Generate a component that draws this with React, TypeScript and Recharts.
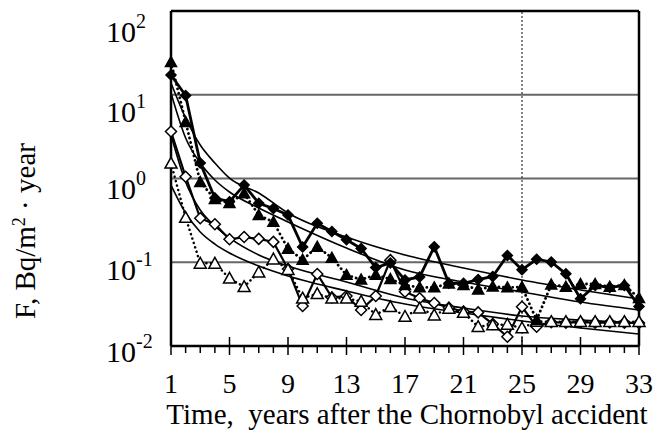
import React from "react";
import { LineChart, Line, XAxis, YAxis, ReferenceLine } from "recharts";

// years after the accident
const years = [1, 2, 3, 4, 5, 6, 7, 8, 9, 10, 11, 12, 13, 14, 15, 16, 17, 18, 19, 20, 21, 22, 23, 24, 25, 26, 27, 28, 29, 30, 31, 32, 33];

// measured series (Bq/m2 per year)
const filledDiamond = [17.2, 9.8, 1.53, 0.585, 0.528, 0.835, 0.506, 0.438, 0.366, 0.152, 0.292, 0.233, 0.186, 0.146, 0.0865, 0.098, 0.0614, 0.0667, 0.153, 0.0561, 0.0561, 0.0622, 0.0676, 0.1205, 0.0815, 0.1086, 0.1007, 0.0728, 0.0367, 0.0527, 0.05, 0.0527, 0.0297];
const filledTriangle = [24.6, 4.73, 0.908, 0.569, 0.509, 0.665, 0.366, 0.303, 0.145, 0.107, 0.153, 0.113, 0.0705, 0.062, 0.0705, 0.063, 0.0535, 0.05, 0.05, 0.0557, 0.0535, 0.0473, 0.0513, 0.05, 0.0506, 0.0204, 0.0542, 0.051, 0.055, 0.055, 0.051, 0.0535, 0.0372];
const openDiamond = [3.64, 1.05, 0.335, 0.284, 0.188, 0.2, 0.19, 0.175, 0.083, 0.03, 0.0724, 0.038, 0.0395, 0.0269, 0.0395, 0.106, 0.0445, 0.0372, 0.0326, 0.0286, 0.0258, 0.0252, 0.0183, 0.0129, 0.0294, 0.017, 0.0192, 0.019, 0.0192, 0.019, 0.0191, 0.019, 0.0188];
const openTriangle = [1.52, 0.342, 0.097, 0.097, 0.0643, 0.051, 0.076, 0.109, 0.0815, 0.0372, 0.042, 0.0372, 0.0372, 0.034, 0.0237, 0.0294, 0.0225, 0.0282, 0.0234, 0.0281, 0.0251, 0.017, 0.0178, 0.0181, 0.0164, 0.0196, 0.0195, 0.0195, 0.0195, 0.0195, 0.0195, 0.0195, 0.0195];

// trend curves
const fitYears = [1, 2, 3, 4, 5, 7, 9, 13, 17, 21, 25, 29, 33];
const fitA = [13.8, 5.28, 2.51, 1.53, 1.01, 0.671, 0.387, 0.2, 0.122, 0.0853, 0.0614, 0.0467, 0.0364];
const fitB = [10.5, 3.05, 1.53, 0.96, 0.69, 0.445, 0.303, 0.148, 0.0807, 0.058, 0.0442, 0.0335, 0.0269];
const fitC = [3.31, 0.908, 0.421, 0.271, 0.195, 0.122, 0.0901, 0.058, 0.0374, 0.0284, 0.0228, 0.0204, 0.0188];
const fitD = [0.835, 0.387, 0.23, 0.165, 0.129, 0.0901, 0.0686, 0.0454, 0.0317, 0.0248, 0.0199, 0.0164, 0.0139];

const xTicks = years;
const xLabels = [1, 5, 9, 13, 17, 21, 25, 29, 33];
const yTicks = [0.01, 0.1, 1, 10, 100];
const yExp: Record<number, string> = { 0.01: "-2", 0.1: "-1", 1: "0", 10: "1", 100: "2" };
const yShift: Record<number, number> = { 0.01: 16, 0.1: 18, 1: 20, 10: 27, 100: 31 };

const rows = years.map((t, i) => ({
  t,
  a: filledDiamond[i],
  b: filledTriangle[i],
  c: openDiamond[i],
  d: openTriangle[i],
}));

const fitRows = fitYears.map((t, i) => ({ t, fa: fitA[i], fb: fitB[i], fc: fitC[i], fd: fitD[i] }));

const FONT = "'Liberation Serif', 'Times New Roman', serif";

const diamond = (fill: string, r: number) => (p: any) => {
  const { cx, cy, index } = p;
  if (cx == null || cy == null) return <g key={index} />;
  return (
    <path
      key={index}
      d={`M${cx},${cy - r}L${cx + r},${cy}L${cx},${cy + r}L${cx - r},${cy}Z`}
      fill={fill}
      stroke="#000"
      strokeWidth={1.5}
    />
  );
};

const triangle = (fill: string, r: number) => (p: any) => {
  const { cx, cy, index } = p;
  if (cx == null || cy == null) return <g key={index} />;
  return (
    <path
      key={index}
      d={`M${cx},${cy - r}L${cx + r},${cy + r * 0.8}L${cx - r},${cy + r * 0.8}Z`}
      fill={fill}
      stroke="#000"
      strokeWidth={1.5}
      strokeLinejoin="miter"
    />
  );
};

const XTick = (p: any) => {
  const { x, y, payload } = p;
  const v = payload.value;
  const major = xLabels.includes(v);
  return (
    <g>
      {major ? (
        <line x1={x} x2={x} y1={y - 9} y2={y + 9} stroke="#000" strokeWidth={1.5} />
      ) : (
        <line x1={x} x2={x} y1={y} y2={y + 7} stroke="#000" strokeWidth={1.5} />
      )}
      {major && (
        <text x={x} y={y + 47} textAnchor="middle" fontFamily={FONT} fontSize={28} fill="#000">
          {v}
        </text>
      )}
    </g>
  );
};

const YTick = (p: any) => {
  const { y, payload } = p;
  const v = payload.value;
  return (
    <text x={106} y={y + yShift[v]} fontFamily={FONT} fontSize={30} fill="#000">
      10
      <tspan dy={-14} fontSize={20}>
        {yExp[v]}
      </tspan>
    </text>
  );
};

export default function App() {
  return (
    <div style={{ position: "absolute", left: 0, top: 0, width: 659, height: 439, background: "#fff" }}>
      <LineChart width={659} height={439} data={rows} margin={{ top: 11, right: 20, bottom: 63, left: 111 }}>
        <XAxis
          dataKey="t"
          type="number"
          domain={[1, 33]}
          ticks={xTicks}
          interval={0}
          tickSize={0}
          tickMargin={0}
          height={30}
          axisLine={{ stroke: "#000", strokeWidth: 2.5 }}
          tickLine={false}
          tick={<XTick />}
        />
        <YAxis
          type="number"
          scale="log"
          domain={[0.01, 100]}
          ticks={yTicks}
          interval={0}
          width={60}
          tickSize={0}
          tickMargin={0}
          axisLine={{ stroke: "#000", strokeWidth: 2.5 }}
          tickLine={false}
          tick={<YTick />}
          allowDataOverflow
        />
        <ReferenceLine y={0.1} stroke="#666" strokeWidth={2} />
        <ReferenceLine y={1} stroke="#666" strokeWidth={2} />
        <ReferenceLine y={10} stroke="#666" strokeWidth={2} />
        <ReferenceLine y={100} stroke="#000" strokeWidth={2.5} />
        <ReferenceLine x={33} stroke="#000" strokeWidth={2.5} />
        <ReferenceLine x={25} stroke="#333" strokeWidth={1.2} strokeDasharray="2 2" />

        <Line data={fitRows} dataKey="fa" type="monotone" stroke="#000" strokeWidth={1.6} dot={false} isAnimationActive={false} />
        <Line data={fitRows} dataKey="fb" type="monotone" stroke="#000" strokeWidth={1.6} dot={false} isAnimationActive={false} />
        <Line data={fitRows} dataKey="fc" type="monotone" stroke="#000" strokeWidth={1.6} dot={false} isAnimationActive={false} />
        <Line data={fitRows} dataKey="fd" type="monotone" stroke="#000" strokeWidth={1.6} dot={false} isAnimationActive={false} />

        <Line dataKey="c" type="linear" stroke="#000" strokeWidth={2.2} dot={diamond("#fff", 5.5)} isAnimationActive={false} />
        <Line dataKey="d" type="linear" stroke="#000" strokeWidth={2.5} strokeDasharray="0.1 4.5" strokeLinecap="round" dot={triangle("#fff", 6)} isAnimationActive={false} />
        <Line dataKey="b" type="linear" stroke="#000" strokeWidth={2.8} strokeDasharray="0.1 4.5" strokeLinecap="round" dot={triangle("#000", 5.5)} isAnimationActive={false} />
        <Line dataKey="a" type="linear" stroke="#000" strokeWidth={2.8} dot={diamond("#000", 5)} isAnimationActive={false} />
      </LineChart>
      <div
        style={{
          position: "absolute",
          left: 0,
          top: 401,
          width: 814,
          textAlign: "center",
          fontFamily: FONT,
          fontSize: 29,
          lineHeight: "26px",
          color: "#000",
          whiteSpace: "pre",
        }}
      >
        {"Time,  years after the Chornobyl accident"}
      </div>
      <div
        style={{
          position: "absolute",
          left: 22,
          top: 231,
          transform: "translate(-50%, -50%) rotate(-90deg)",
          fontFamily: FONT,
          fontSize: 29,
          lineHeight: "32px",
          color: "#000",
          whiteSpace: "nowrap",
        }}
      >
        F, Bq/m<sup style={{ fontSize: 18 }}>2</sup> · year
      </div>
    </div>
  );
}
